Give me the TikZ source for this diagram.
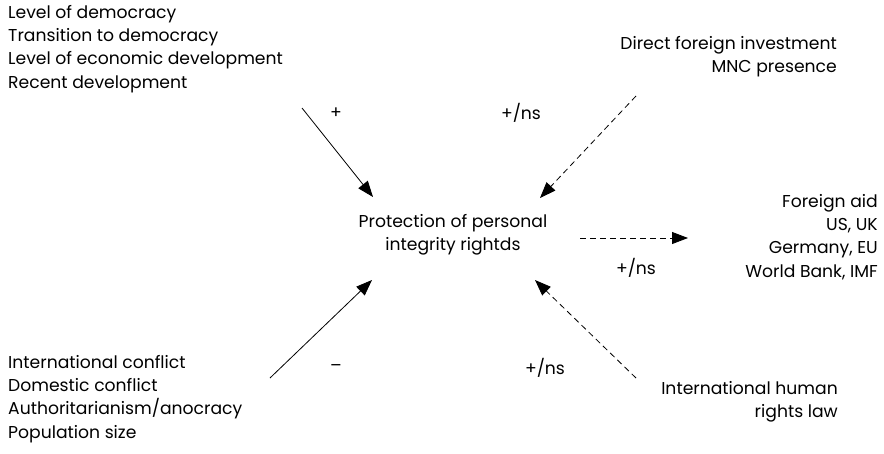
\documentclass[tikz,border=0pt]{standalone}
\usepackage{fontspec}
\setmainfont{Poppins}
\usetikzlibrary{arrows.meta}
\tikzset{
  txt/.style={inner sep=0pt, font=\fontsize{17.2}{23.2}\selectfont},
  sign/.style={inner sep=0pt, font=\fontsize{17.2}{20}\selectfont},
  effect/.style={-{Triangle[length=16pt,width=12pt]}, line width=0.8pt},
  weak/.style={effect, dash pattern=on 6pt off 4pt}
}
\begin{document}
\begin{tikzpicture}[x=1pt,y=-1pt]
			\useasboundingbox (0,0) rectangle (884,453);
			% factors
			\node[txt, anchor=west, align=left] (dem) at (8,49) {Level of democracy\\Transition to democracy\\Level of economic development\\Recent development};
			\node[txt, anchor=east, align=right] (fdi) at (837,57) {Direct foreign investment\\MNC presence};
			\node[txt, align=center] (pir) at (453,235) {Protection of personal\\integrity rightds};
			\node[txt, anchor=east, align=right] (aid) at (878,237) {Foreign aid\\US, UK\\Germany, EU\\World Bank, IMF};
			\node[txt, anchor=west, align=left] (con) at (8,399) {International conflict\\Domestic conflict\\Authoritarianism/anocracy\\Population size};
			\node[txt, anchor=east, align=right] (law) at (838,402) {International human\\rights law};
			% arrow ends
			\coordinate (demA) at (302,108);
			\coordinate (demB) at (373,197);
			\coordinate (fdiA) at (636,96);
			\coordinate (fdiB) at (540,198);
			\coordinate (aidA) at (580,238);
			\coordinate (aidB) at (688,238);
			\coordinate (conA) at (270,378);
			\coordinate (conB) at (372,280);
			\coordinate (lawA) at (636,378);
			\coordinate (lawB) at (535,280);
			\draw[effect] (demA) -- (demB);
			\draw[weak] (fdiA) -- (fdiB);
			\draw[weak] (aidA) -- (aidB);
			\draw[effect] (conA) -- (conB);
			\draw[weak] (lawA) -- (lawB);
			% signs
			\node[sign] (s1) at (336,113) {+};
			\node[sign] (s2) at (521,113) {+/ns};
			\node[sign] (s3) at (636,268) {+/ns};
			\node[sign] (s4) at (336,368) {--};
			\node[sign] (s5) at (545,368) {+/ns};
		\end{tikzpicture}
\end{document}
